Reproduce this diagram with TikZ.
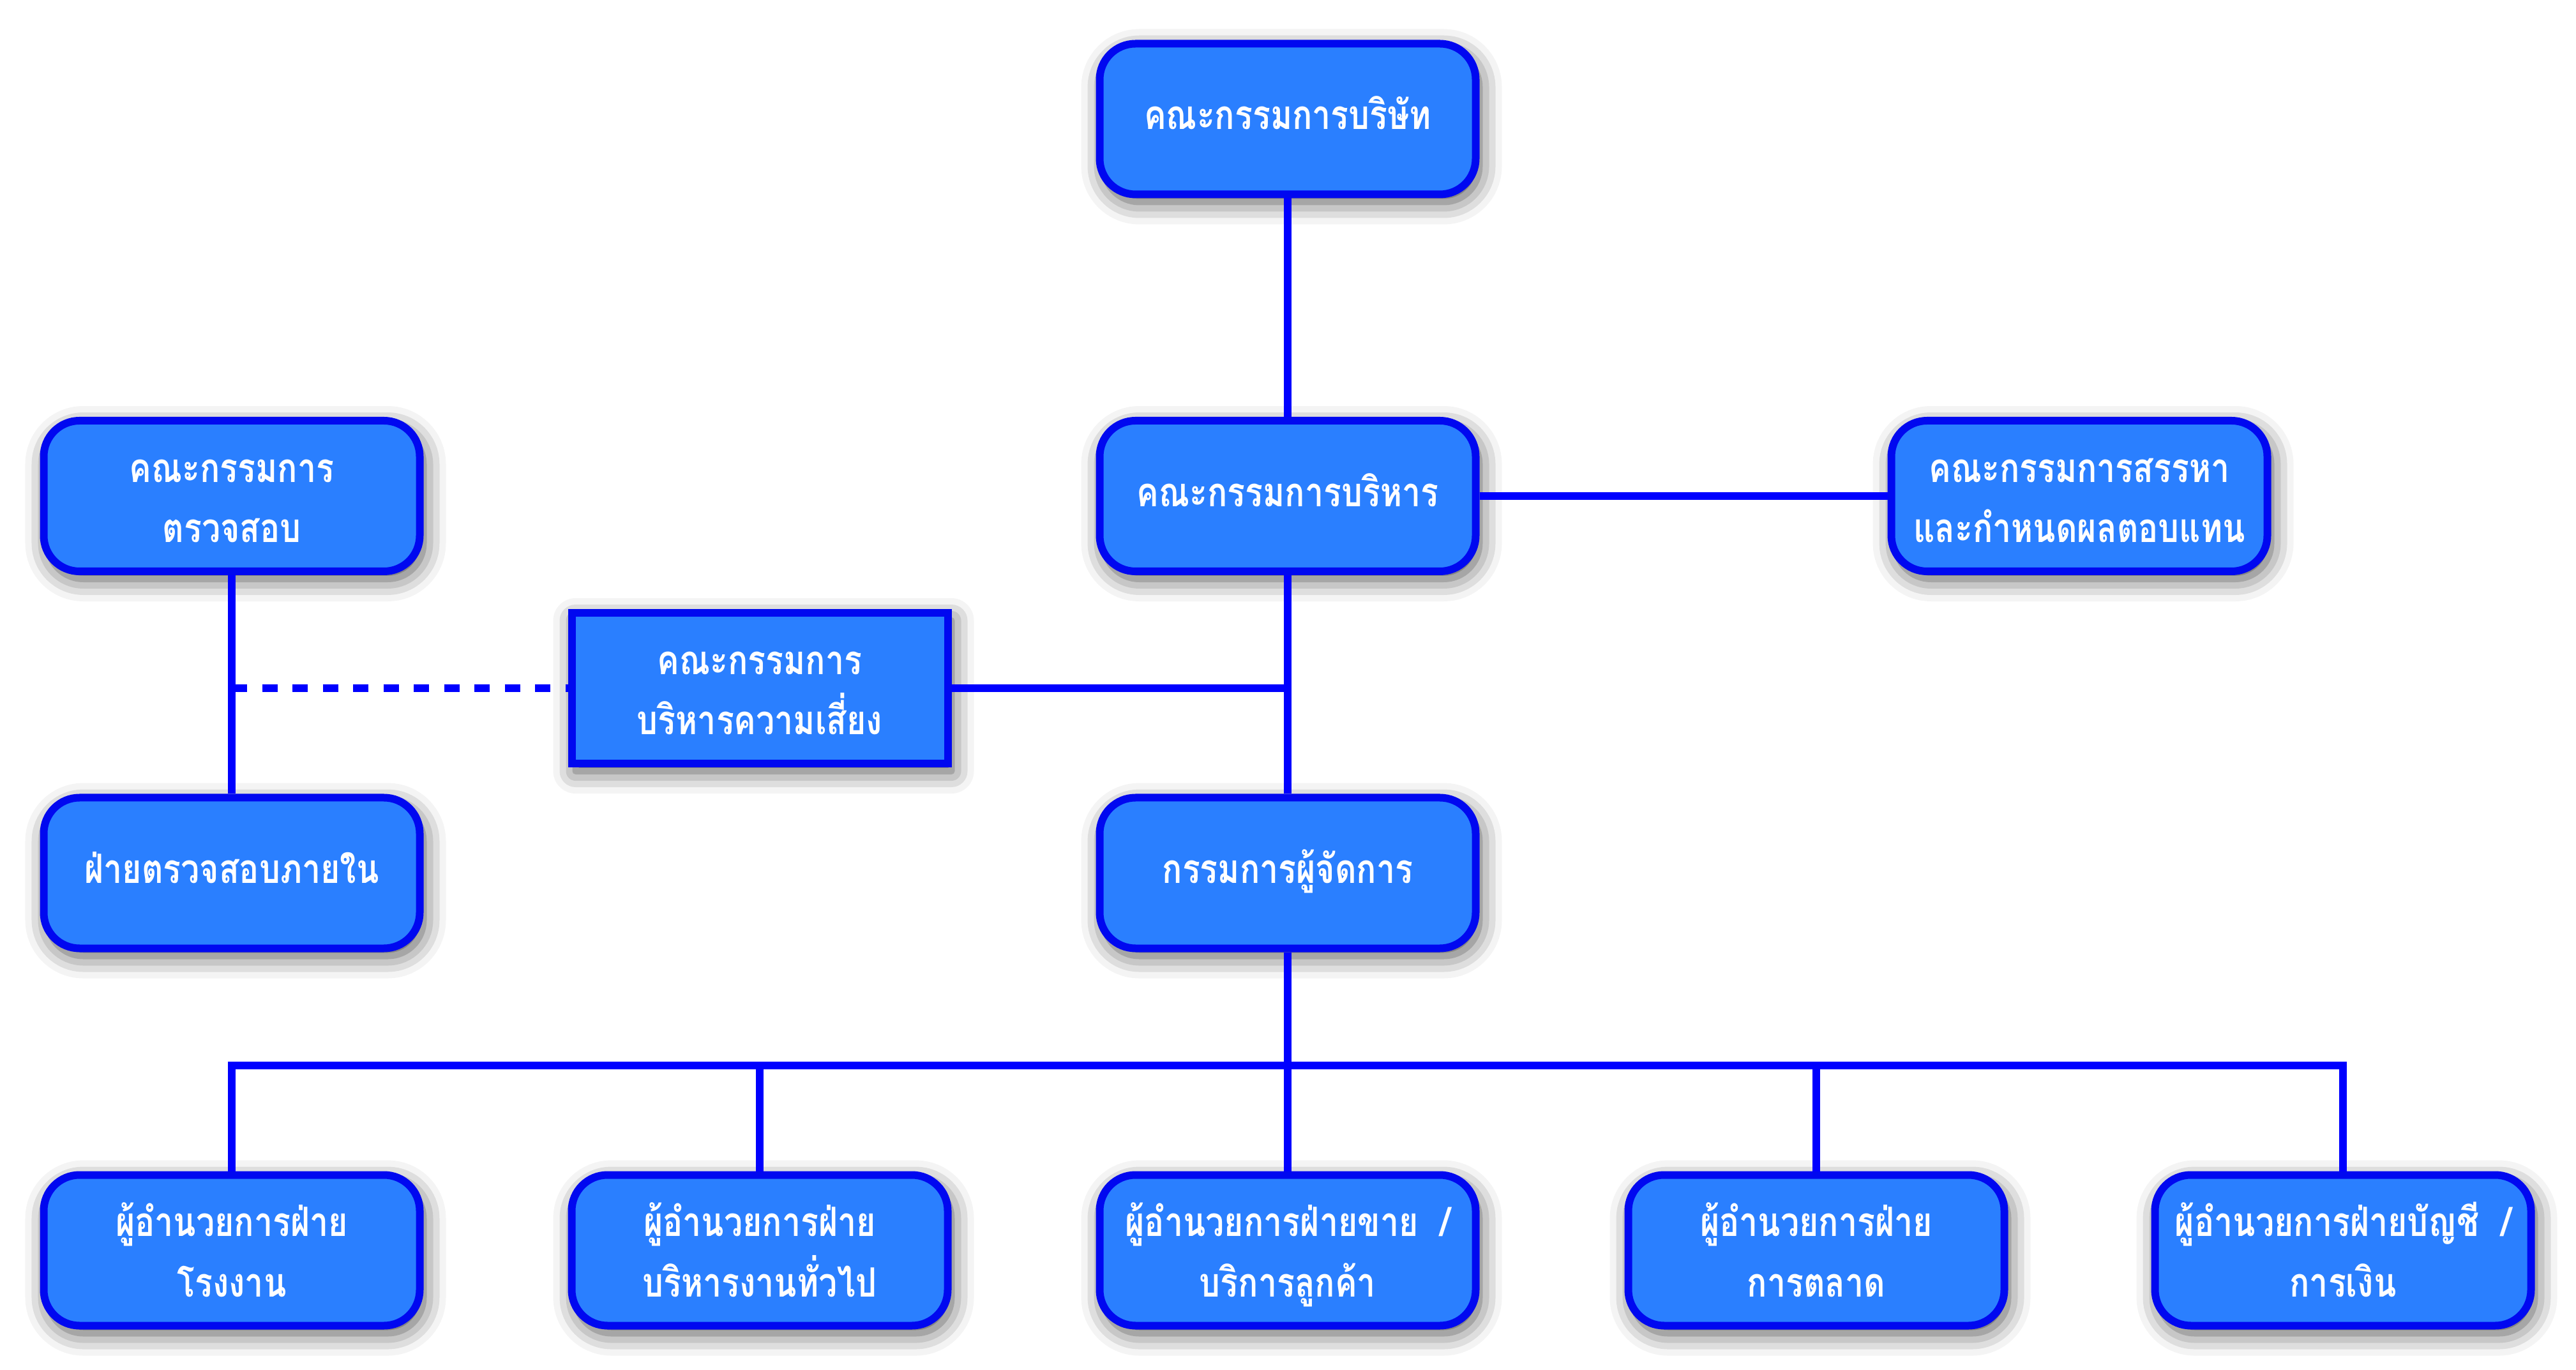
\documentclass[tikz,border=0pt]{standalone}
\usepackage{fontspec}
\newfontfamily\thaifont[Script=Thai,FakeStretch=0.82]{Loma}
\usetikzlibrary{shadows.blur}
\definecolor{boxfill}{RGB}{42,127,255}
\definecolor{boxborder}{RGB}{0,8,240}
\definecolor{lineblue}{RGB}{0,0,255}
\tikzset{
  orgbox/.style={draw=boxborder, fill=boxfill, line width=0.12cm,
    minimum width=5.89cm, minimum height=2.36cm, inner sep=0pt,
    align=center, text=white,
    font={\thaifont\bfseries\fontsize{18}{27}\selectfont},
    blur shadow={shadow xshift=0.06cm, shadow yshift=-0.12cm,
      shadow blur radius=0.35cm, shadow opacity=70}},
  roundbox/.style={orgbox, rounded corners=0.56cm},
  sharpbox/.style={orgbox},
  oneline/.style={text height=0.33cm, text depth=0pt},
  twoline/.style={text height=1.46cm, text depth=0pt},
  conn/.style={draw=lineblue, line width=0.12cm},
  dashconn/.style={conn, dash pattern=on 0.24cm off 0.235cm}
}
\begin{document}
\begin{tikzpicture}
\useasboundingbox (0,0) rectangle (40.35,-21.46);
\node[roundbox, oneline] (board) at (20.17,-1.865) {คณะกรรมการบริษัท};
\node[roundbox, oneline] (exec) at (20.17,-7.77) {คณะกรรมการบริหาร};
\node[roundbox, twoline] (audit) at (3.63,-7.77) {คณะกรรมการ\\ตรวจสอบ};
\node[roundbox, twoline] (nomin) at (32.57,-7.77) {คณะกรรมการสรรหา\\และกำหนดผลตอบแทน};
\node[sharpbox, twoline] (risk) at (11.90,-10.78) {คณะกรรมการ\\บริหารความเสี่ยง};
\node[roundbox, oneline] (md) at (20.17,-13.675) {กรรมการผู้จัดการ};
\node[roundbox, oneline] (ia) at (3.63,-13.675) {ฝ่ายตรวจสอบภายใน};
\node[roundbox, twoline] (b1) at (3.63,-19.585) {ผู้อำนวยการฝ่าย\\โรงงาน};
\node[roundbox, twoline] (b2) at (11.90,-19.585) {ผู้อำนวยการฝ่าย\\บริหารงานทั่วไป};
\node[roundbox, twoline] (b3) at (20.17,-19.585) {ผู้อำนวยการฝ่ายขาย\ \ /\\บริการลูกค้า};
\node[roundbox, twoline] (b4) at (28.45,-19.585) {ผู้อำนวยการฝ่าย\\การตลาด};
\node[roundbox, twoline] (b5) at (36.70,-19.585) {ผู้อำนวยการฝ่ายบัญชี\ \ /\\การเงิน};
\coordinate (bus) at (20.17,-16.69);
\coordinate (aj) at (audit.south |- risk.west);
\coordinate (ej) at (exec.south |- risk.east);
\draw[conn] (board.south) -- (exec.north);
\draw[conn] (exec.east) -- (nomin.west);
\draw[conn] (exec.south) -- (md.north);
\draw[conn] (audit.south) -- (ia.north);
\draw[conn] (risk.east) -- (ej);
\draw[dashconn] (aj) -- (risk.west);
\draw[conn] (md.south) -- (bus);
\draw[conn] (b1.north) |- (bus) -| (b5.north);
\draw[conn] (b2.north) -- (b2.north |- bus);
\draw[conn] (b3.north) -- (bus);
\draw[conn] (b4.north) -- (b4.north |- bus);
\end{tikzpicture}
\end{document}
